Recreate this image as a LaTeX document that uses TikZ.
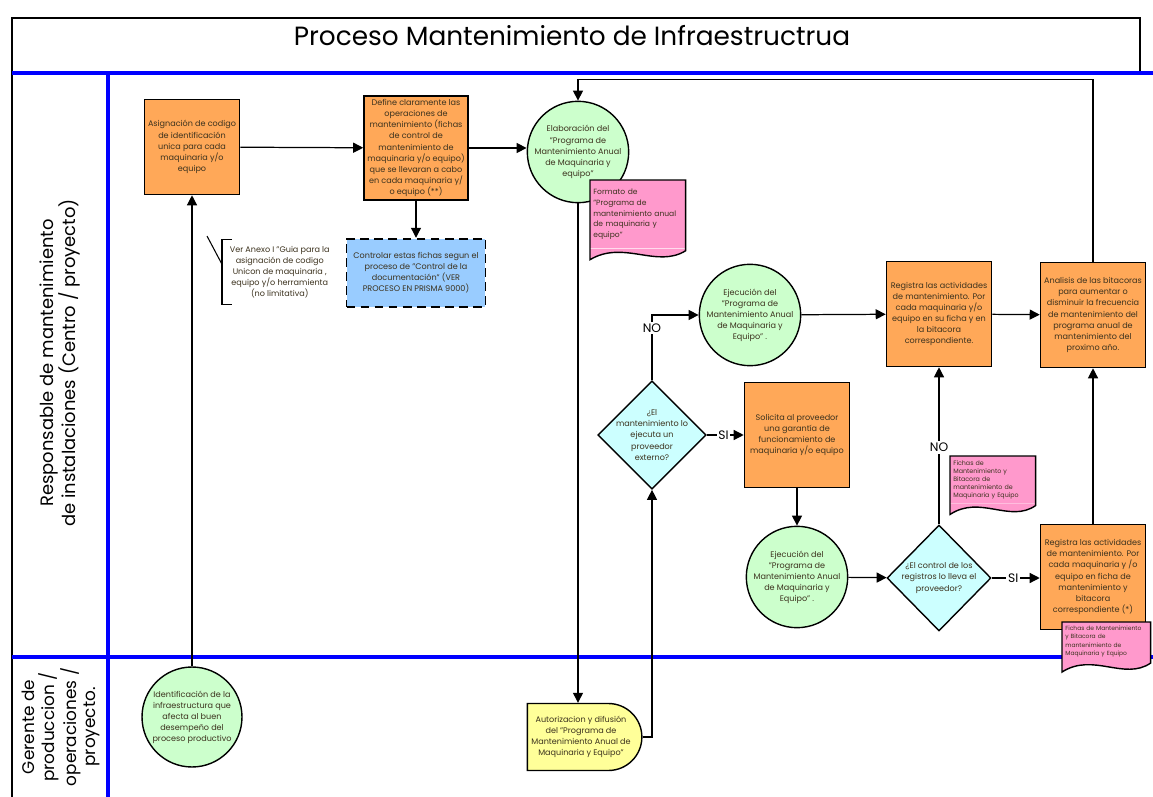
\documentclass[tikz,border=0pt]{standalone}
\usepackage{fontspec}
\setmainfont{Poppins}
\usetikzlibrary{arrows.meta,positioning,shapes.geometric,shapes.misc,calc}

\definecolor{boxorange}{RGB}{255,168,88}
\definecolor{circgreen}{RGB}{204,255,204}
\definecolor{docpink}{RGB}{255,153,204}
\definecolor{ctrlblue}{RGB}{153,204,255}
\definecolor{deccyan}{RGB}{204,255,255}
\definecolor{autyellow}{RGB}{255,255,153}
\definecolor{laneblue}{RGB}{0,0,255}
\definecolor{txtdark}{RGB}{60,50,30}

% wavy bottom for the document nodes
\newcommand{\docshape}[1]{%
  \fill[docpink] (#1.south west) -- (#1.south east) -- ($(#1.south east)+(0mm,-0.4mm)$)
    .. controls ($(#1.south west)!0.7!(#1.south east)+(0mm,-4mm)$) and ($(#1.south west)!0.35!(#1.south east)+(0mm,1.8mm)$) .. ($(#1.south west)+(0mm,-2.2mm)$) -- cycle;
  \draw[line width=0.8pt] (#1.north west) -- (#1.north east) -- ($(#1.south east)+(0mm,-0.4mm)$)
    .. controls ($(#1.south west)!0.7!(#1.south east)+(0mm,-4mm)$) and ($(#1.south west)!0.35!(#1.south east)+(0mm,1.8mm)$) .. ($(#1.south west)+(0mm,-2.2mm)$) -- cycle;}

\begin{document}
\begin{tikzpicture}[
    x=0.02cm, y=-0.02cm,
    font=\fontsize{4.6}{6.3}\selectfont, text=txtdark,
    act/.style={rectangle, draw=black, line width=0.9pt, fill=boxorange, minimum width=2.1cm, minimum height=2.1cm, align=center, inner sep=1pt},
    circ/.style={circle, draw=black, line width=0.8pt, fill=circgreen, minimum size=2cm, align=center, inner sep=0pt},
    dec/.style={diamond, draw=black, line width=0.8pt, fill=deccyan, minimum width=2.08cm, minimum height=2.12cm, align=center, inner sep=-2pt},
    ctrl/.style={rectangle, draw=black, line width=1pt, dashed, dash pattern=on 5pt off 3pt, fill=ctrlblue, minimum width=2.78cm, minimum height=1.36cm, align=center},
    doc/.style={rectangle, fill=docpink, anchor=north west, align=left, inner xsep=0.6mm, inner ysep=0.8mm,
        execute at begin node={\hyphenpenalty=10000\exhyphenpenalty=10000}},
    delay/.style={rounded rectangle, rounded rectangle west arc=none, draw=black, line width=0.8pt, fill=autyellow, minimum width=2.36cm, minimum height=1.34cm, align=center, inner sep=1pt},
    note/.style={rectangle, anchor=west, align=center, inner xsep=1.5mm, minimum height=1.18cm},
    lane/.style={rotate=90, align=center, text=black},
    lbl/.style={fill=white, inner sep=1pt, text=black, font=\fontsize{7}{8}\selectfont},
    arr/.style={-{Triangle[length=2mm,width=2mm]}, line width=0.7pt},
    lanelinie/.style={laneblue, line width=2pt},
]
\useasboundingbox (0,0) rectangle (1153,797);

% lanes and title
\draw[line width=0.6pt] (12,18) rectangle (1140,73);
\draw[line width=0.8pt] (12,18) -- (12,797);
\draw[lanelinie] (12,73) -- (1153,73);
\draw[lanelinie] (12,657) -- (1153,657);
\draw[lanelinie] (108,73) -- (108,797);
\node[text=black, font=\fontsize{15}{18}\selectfont] (title) at (572,36) {Proceso Mantenimiento de Infraestructrua};
\node[lane, font=\fontsize{10.2}{12.4}\selectfont] (lane1) at (60,363) {Responsable de mantenimiento\\de instalaciones (Centro / proyecto)};
\node[lane, font=\fontsize{9.6}{11.2}\selectfont] (lane2) at (61,727) {Gerente de\\produccion /\\operaciones /\\proyecto.};

% first row
\node[act, minimum width=1.9cm, minimum height=1.9cm] (asig) at (192,147) {Asignación de codigo\\de identificación\\unica para cada\\maquinaria y/o\\equipo};
\node[act, minimum width=2.08cm, minimum height=2.08cm] (define) at (416,148) {Define claramente las\\operaciones de\\mantenimiento  (fichas\\de control de\\mantenimiento de\\maquinaria y/o equipo)\\que se llevaran a cabo\\en cada maquinaria y/\\o equipo (**)};
\node[ctrl, below=0.74cm of define] (control) {Controlar estas fichas segun el\\proceso de "Control de la\\documentación" (VER\\PROCESO EN PRISMA 9000)};
\node[circ] (elab) at (578,152) {Elaboración del\\"Programa de\\Mantenimiento Anual\\de Maquinaria y\\equipo"};
\node[doc, text width=1.78cm, minimum height=1.36cm, font=\fontsize{4.3}{6.1}\selectfont] (formato) at (590,180) {Formato de\\"Programa de\\mantenimiento anual\\de maquinaria y\\equipo"};
\docshape{formato}

% note on the codes
\node[note] (nota) at (222,272) {Ver Anexo I "Guia para la\\asignación de codigo\\Unicon de maquinaria ,\\equipo y/o herramienta\\(no limitativa)};
\draw[line width=0.6pt] ([xshift=2mm]nota.north west) -- (nota.north west) -- (nota.south west) -- ([xshift=2mm]nota.south west);
\coordinate (notaend) at (207,236);
\draw[line width=0.6pt] ($(nota.north west)!0.38!(nota.south west)$) -- (notaend);

% second row
\node[circ] (ejec1) at (750,315) {Ejecución del\\"Programa de\\Mantenimiento Anual\\de Maquinaria y\\Equipo" .};
\node[act] (reg1) at (939,314) {Registra las actividades\\de mantenimiento. Por\\cada maquinaria y/o\\equipo en su ficha y en\\la bitacora\\correspondiente.};
\node[act] (anal) at (1093,315) {Analisis de las bitacoras\\para aumentar o\\disminuir la frecuencia\\de mantenimiento del\\programa anual de\\mantenimiento del\\proximo año.};
\node[dec] (dec1) at (652,435) {¿El\\mantenimiento lo\\ejecuta un\\proveedor\\externo?};
\node[act] (solic) at (797,435) {Solicita al proveedor\\una garantía de\\funcionamiento de\\maquinaria y/o equipo};

% third row
\node[circ] (ejec2) at (797,577) {Ejecución del\\"Programa de\\Mantenimiento Anual\\de Maquinaria y\\Equipo" .};
\node[dec] (dec2) at (939,578) {¿El control de los\\registros lo lleva el\\proveedor?};
\node[act] (reg2) at (1093,577) {Registra las actividades\\de mantenimiento. Por\\cada maquinaria y /o\\equipo en ficha  de\\mantenimiento  y\\bitacora\\correspondiente  (*)};
\node[doc, text width=1.58cm, font=\fontsize{3.6}{4.6}\selectfont] (fichas1) at (950,456) {Fichas de\\Mantenimiento y\\Bitacora de\\mantenimiento de\\Maquinaria y Equipo};
\docshape{fichas1}
\node[doc, text width=1.64cm, font=\fontsize{3.4}{4.6}\selectfont] (fichas2) at (1062,622) {Fichas de Mantenimiento\\y Bitacora de\\mantenimiento de\\Maquinaria y Equipo};
\docshape{fichas2}

% lower lane
\node[circ] (ident) at (192,717) {Identificación de la\\infraestructura que\\afecta al buen\\desempeño del\\proceso productivo};
\node[delay] (autor) at (581,737) {Autorizacion y difusión\\del "Programa de\\Mantenimiento Anual de\\Maquinaria y Equipo"};

% connectors
\draw[arr] (ident) -- (asig);
\draw[arr] (asig) -- (define);
\draw[arr] (define) -- (control);
\draw[arr] (define.east) -- (elab.west |- define.east);
\draw[arr] (anal.north) -- ++(0,-182) -| (elab.north);
\draw[arr] (elab.south) -- (elab.south |- autor.north);
\draw[arr] (autor.east) -| (dec1.south);
\draw[arr] (dec1.north) |- (ejec1.west) node[lbl, pos=0.4] {NO};
\draw[arr] (dec1.east) -- (solic.west) node[lbl, pos=0.45] {SI};
\draw[arr] (ejec1) -- (reg1);
\draw[arr] (reg1) -- (anal);
\draw[arr] (solic) -- (ejec2);
\draw[arr] (ejec2) -- (dec2);
\draw[arr] (dec2.north) -- (reg1.south) node[lbl, pos=0.49] {NO};
\draw[arr] (dec2.east) -- (reg2.west |- dec2.east) node[lbl, pos=0.45] {SI};
\draw[arr] (reg2) -- (anal);
\end{tikzpicture}
\end{document}
